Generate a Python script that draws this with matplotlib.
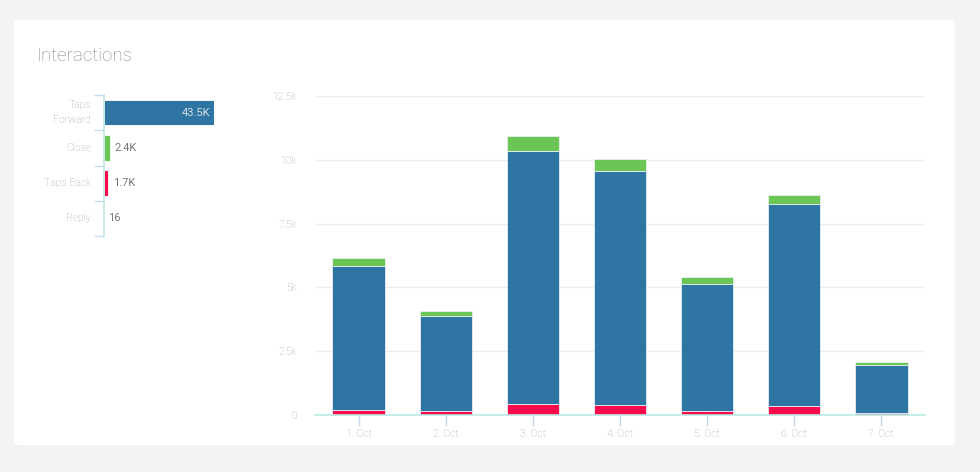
import matplotlib
matplotlib.use("Agg")
import matplotlib.pyplot as plt
from matplotlib.patches import FancyBboxPatch

# ---- data ----
days = ["1. Oct", "2. Oct", "3. Oct", "4. Oct", "5. Oct", "6. Oct", "7. Oct"]
taps_back = [200, 140, 430, 390, 160, 340, 70]
taps_forward = [5640, 3740, 9910, 9170, 4990, 7930, 1880]
close = [310, 200, 590, 470, 260, 350, 140]

summary_labels = ["Taps\nForward", "Close", "Taps Back", "Reply"]
summary_values = [43500, 2400, 1700, 16]
summary_text = ["43.5K", "2.4K", "1.7K", "16"]

y_ticks = [0, 2500, 5000, 7500, 10000, 12500]
y_tick_labels = ["0", "2.5k", "5k", "7.5k", "10k", "12.5k"]

BLUE = "#2e75a4"
GREEN = "#6cc655"
RED = "#fb0a4c"
colors = [BLUE, GREEN, RED, BLUE]

plt.rcParams["font.family"] = ["Roboto", "DejaVu Sans"]

W, H = 980, 472
fig = plt.figure(figsize=(W / 100, H / 100), dpi=100)
fig.patch.set_facecolor("#f3f3f3")

# card
card = FancyBboxPatch((14 / W, (H - 445) / H), (955 - 14) / W, (445 - 20) / H,
                      boxstyle="round,pad=0,rounding_size=0.006",
                      transform=fig.transFigure, facecolor="white",
                      edgecolor="none", zorder=-10)
fig.patches.append(card)

fig.text(37 / W, 1 - 56 / H, "Interactions", fontsize=13.5, color="#858585",
         fontweight="light", va="center", ha="left")

# ---- left summary bar chart ----
axl = fig.add_axes([104 / W, (H - 236) / H, 110 / W, (236 - 95) / H])
axl.set_facecolor("none")
ypos = list(range(len(summary_values)))
axl.barh(ypos, summary_values, height=0.72, color=colors,
         edgecolor="white", linewidth=0.6)
axl.set_xlim(0, summary_values[0])
axl.set_ylim(len(summary_values) - 0.5, -0.5)
for s in ["top", "right", "bottom"]:
    axl.spines[s].set_visible(False)
axl.spines["left"].set_color("#bfe9e4")
axl.spines["left"].set_linewidth(1.2)
axl.set_xticks([])
axl.set_yticks([y - 0.5 for y in ypos] + [len(ypos) - 0.5])
axl.set_yticklabels([])
axl.tick_params(axis="y", length=7, color="#c9dcef", width=1)
for y, lab in zip(ypos, summary_labels):
    axl.text(-13 / 110 * summary_values[0], y, lab, ha="right", va="center",
             fontsize=7.5, color="#a3a3a3", linespacing=1.6,
             fontweight="light")
for i, (v, t) in enumerate(zip(summary_values, summary_text)):
    if i == 0:
        axl.text(v * 0.965, i, t, ha="right", va="center", fontsize=8,
                 color="#d8dde3")
    else:
        axl.text(v + 0.04 * summary_values[0], i, t, ha="left", va="center",
                 fontsize=8, color="#777777", clip_on=False)

# ---- main stacked column chart ----
ax = fig.add_axes([315 / W, (H - 415) / H, 610 / W, (415 - 96) / H])
ax.set_facecolor("none")
x = list(range(len(days)))
bw = 0.6
ax.bar(x, taps_back, width=bw, color=RED, edgecolor="#e9eef5",
       linewidth=0.6, zorder=3)
ax.bar(x, taps_forward, width=bw, bottom=taps_back, color=BLUE,
       edgecolor="#e9eef5", linewidth=0.6, zorder=3)
bottom2 = [a + b for a, b in zip(taps_back, taps_forward)]
ax.bar(x, close, width=bw, bottom=bottom2, color=GREEN,
       edgecolor="#e9eef5", linewidth=0.6, zorder=3)

ax.set_xlim(-0.5, len(days) - 0.5)
ax.set_ylim(0, 12500)
ax.set_yticks(y_ticks)
ax.set_yticklabels(y_tick_labels)
ax.grid(axis="y", color="#ececec", linewidth=1, zorder=0)
for s in ["top", "right", "left"]:
    ax.spines[s].set_visible(False)
ax.spines["bottom"].set_color("#b9ebe4")
ax.spines["bottom"].set_linewidth(1.2)
ax.spines["bottom"].set_zorder(4)
ax.set_xticks(x)
ax.set_xticklabels(days)
ax.tick_params(axis="x", length=8, color="#c9d6ef", width=1,
               labelsize=7.5, labelcolor="#a6a6a6", pad=2)
ax.tick_params(axis="y", length=0, labelsize=7.5, labelcolor="#a6a6a6",
               pad=13)
for lbl in ax.get_xticklabels() + ax.get_yticklabels():
    lbl.set_fontweight("light")

fig.savefig("out.png", dpi=100, facecolor=fig.get_facecolor())
